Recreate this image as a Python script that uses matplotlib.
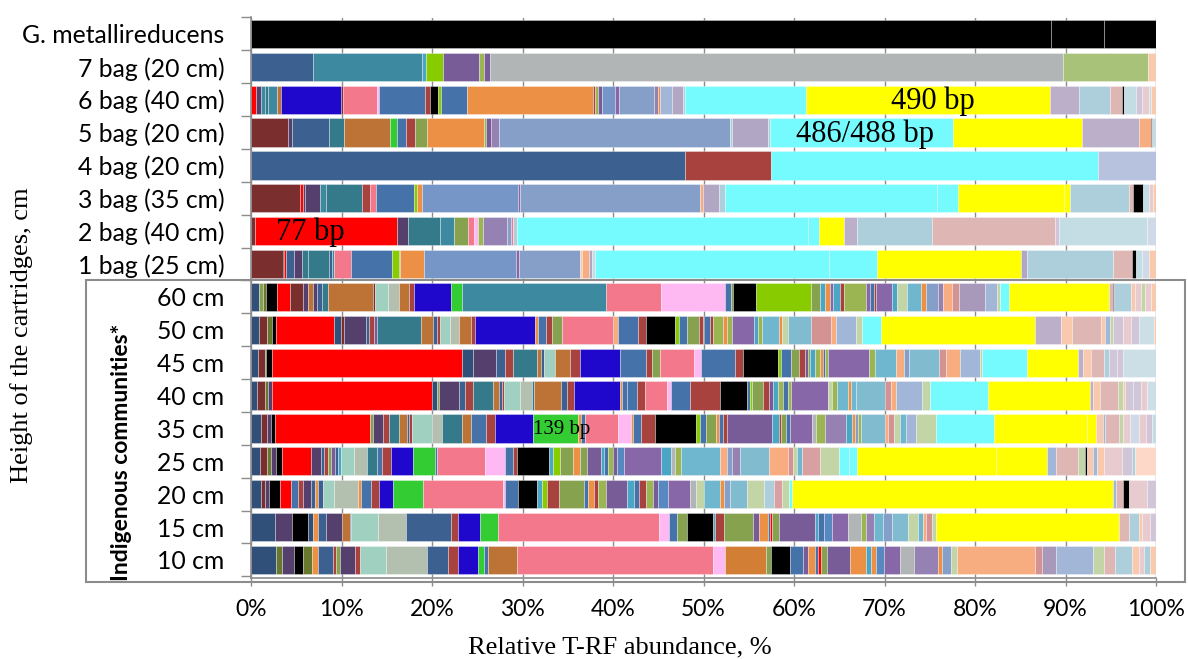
import matplotlib
matplotlib.use("Agg")
import matplotlib.pyplot as plt
from matplotlib.patches import Rectangle

# T-RF colour palette (keys used by the row colour lists below)
PAL = {
    'K': '#000000', 'R': '#FF0000', 'DR': '#7A2E2E', 'BR': '#A8423F', 'NV': '#30507A',
    'DB': '#3C6090', 'SB': '#4672AA', 'TL': '#3D8AA0', 'DT': '#347A8A', 'BG': '#88CC00',
    'GR': '#33CC33', 'PU': '#785C98', 'DP': '#553F6C', 'OL': '#87A24E', 'DO': '#68792F',
    'OL2': '#9BB552', 'GY': '#B1B5B5', 'LG': '#A9C27A', 'PE': '#F9C9AE', 'PK': '#F4788B',
    'LP': '#FFB9F2', 'BL': '#1F08CC', 'OR': '#EB9044', 'BO': '#BD7335', 'OR2': '#D27F35',
    'BS': '#7596C6', 'LS': '#859FC8', 'LB': '#A2B6D7', 'LB2': '#B7C3DE', 'LV': '#B2A6C5',
    'LV2': '#BBAFCA', 'CY': '#75FBFD', 'Y': '#FFFF00', 'AQ': '#ACCFDB', 'RS': '#DEB7B5',
    'PL': '#C4DCE4', 'PV': '#D0D9E8', 'MN': '#9FD0C0', 'GG': '#B4C0AF', 'TB': '#4AA6C4',
    'VI': '#8767A7', 'MV': '#9682B2', 'LT': '#80BBD0', 'SK': '#6FB7CF', 'LR': '#D49393',
    'LR2': '#D8A0A0', 'SA': '#F7AD80', 'LA': '#A898BA', 'PG': '#C3D4A7', 'PP': '#E8CBCF',
    'PD': '#D0C6D8', 'IC': '#CCDFE7', 'PB': '#5888C0', 'PE2': '#FDD8C8',
}

# Sample labels, top to bottom
samples = ["G. metallireducens", "7 bag (20 cm)", "6 bag (40 cm)", "5 bag (20 cm)",
           "4 bag (20 cm)", "3 bag (35 cm)", "2 bag (40 cm)", "1 bag (25 cm)",
           "60 cm", "50 cm", "45 cm", "40 cm", "35 cm", "25 cm", "20 cm", "15 cm", "10 cm"]

# T-RF abundances per sample (left to right) and their colour keys
gmet_vals = [88.4, 5.9, 5.7]
gmet_cols = ['K', 'K', 'K']

bag7_vals = [6.9, 12.0, 0.4, 1.9, 4.0, 0.6, 0.6, 63.3, 9.4, 0.9]
bag7_cols = ['DB', 'TL', 'TB', 'BG', 'PU', 'OL2', 'PU', 'GY', 'LG', 'PE']

bag6_vals = [0.55, 0.55, 0.4, 0.4, 1.0, 0.4, 6.6, 0.3, 3.7, 0.2, 5.1, 0.6, 0.9, 0.3, 2.9,
             13.9, 0.2, 0.3, 0.5, 1.4, 0.5, 3.8, 0.5, 0.2, 1.3, 1.2, 0.3, 13.3, 27.0, 3.2,
             3.4, 1.3, 0.3, 1.3, 0.6, 0.8, 0.3, 0.5]
bag6_cols = ['R', 'DP', 'TL', 'DT', 'TL', 'BO', 'BL', 'DR', 'PK', 'LP', 'SB', 'BR', 'K', 'BG', 'SB',
             'OR', 'BR', 'OL2', 'PU', 'BS', 'VI', 'LS', 'MV', 'OR', 'LB', 'LV', 'AQ', 'CY', 'Y', 'LV2',
             'AQ', 'RS', 'K', 'PL', 'PD', 'PP', 'PL', 'PE']

bag5_vals = [4.1, 0.4, 4.1, 1.7, 5.1, 0.7, 1.0, 1.0, 1.3, 6.4, 0.2, 0.5, 0.9, 25.5, 0.3, 3.9,
             0.3, 20.2, 14.2, 6.3, 1.3, 0.2, 0.4]
bag5_cols = ['DR', 'DP', 'DB', 'DT', 'BO', 'GR', 'SB', 'BR', 'OL', 'OR', 'OL2', 'PU', 'MV', 'LS', 'AQ', 'LV',
             'AQ', 'CY', 'Y', 'LV2', 'SA', 'K', 'PL']

bag4_vals = [48.0, 9.5, 36.1, 6.4]
bag4_cols = ['DB', 'BR', 'CY', 'LB2']

bag3_vals = [5.4, 0.3, 0.3, 1.6, 0.7, 4.0, 0.9, 0.6, 4.2, 0.3, 0.6, 10.6, 0.2, 19.9, 0.3, 1.8,
             0.7, 23.4, 2.3, 11.7, 0.7, 6.5, 0.5, 1.1, 0.6, 0.5, 0.3]
bag3_cols = ['DR', 'R', 'DP', 'DP', 'TL', 'DT', 'BR', 'PK', 'SB', 'BG', 'OR', 'BS', 'VI', 'LS', 'SA', 'LV',
             'AQ', 'CY', 'CY', 'Y', 'Y', 'AQ', 'RS', 'K', 'PL', 'PP', 'PE']

bag2_vals = [0.4, 15.7, 1.2, 3.6, 1.5, 1.6, 0.6, 0.5, 0.5, 2.7, 0.4, 0.3, 0.4, 32.2, 1.2, 2.7,
             1.5, 8.2, 13.6, 0.5, 9.7, 1.0]
bag2_cols = ['DR', 'R', 'DP', 'DT', 'TL', 'OL', 'PK', 'LP', 'OL2', 'MV', 'LS', 'PK', 'AQ', 'CY', 'CY', 'Y',
             'LV2', 'AQ', 'RS', 'PD', 'PL', 'PV']

bag1_vals = [3.5, 0.1, 0.3, 0.8, 0.9, 0.7, 2.3, 0.3, 0.3, 1.9, 4.5, 0.8, 0.1, 2.6, 10.2, 0.3,
             6.7, 0.3, 0.7, 0.4, 0.3, 25.9, 5.3, 15.9, 0.6, 9.5, 2.1, 0.5, 0.6, 0.8, 0.8]
bag1_cols = ['DR', 'K', 'R', 'DB', 'DP', 'DT', 'DT', 'DB', 'TL', 'PK', 'SB', 'BG', 'OL', 'OR', 'BS', 'VI',
             'LS', 'PE', 'SA', 'LV', 'PL', 'CY', 'CY', 'Y', 'LV', 'AQ', 'RS', 'K', 'PL', 'PV', 'PE']

cm60_vals = [0.9, 0.4, 0.4, 1.2, 1.4, 1.5, 0.5, 0.6, 0.4, 0.5, 0.7, 5.0, 0.2, 1.4, 1.3, 1.1,
             0.5, 4.1, 1.2, 15.9, 6.1, 7.1, 0.6, 0.3, 2.5, 6.1, 1.0, 0.5, 0.6, 0.3, 0.8, 0.4,
             2.5, 0.4, 0.4, 0.3, 1.7, 0.6, 1.1, 1.5, 0.6, 1.3, 0.6, 1.0, 0.7, 2.9, 1.3, 0.4,
             1.0, 11.0, 0.4, 0.2, 1.8, 0.5, 0.6, 0.5, 0.6, 0.6]
cm60_cols = ['NV', 'OL', 'DO', 'K', 'R', 'DR', 'DP', 'BO', 'DP', 'DB', 'DT', 'BO', 'DR', 'MN', 'GG', 'BO',
             'BR', 'BL', 'GR', 'TL', 'PK', 'LP', 'SB', 'OL', 'K', 'BG', 'OL', 'TB', 'OR', 'VI', 'TB', 'BR',
             'OL2', 'VI', 'SB', 'BR', 'VI', 'TB', 'PG', 'SK', 'OR', 'LS', 'MV', 'SA', 'LR', 'LA', 'LB', 'PG',
             'CY', 'Y', 'RS', 'K', 'AQ', 'PE', 'PP', 'PG', 'PP', 'PE']

cm50_vals = [0.9, 0.9, 0.5, 0.5, 6.4, 0.7, 0.4, 2.4, 0.3, 0.6, 0.3, 4.9, 1.3, 0.4, 0.4, 1.1,
             1.0, 1.3, 0.5, 6.6, 0.3, 0.9, 0.7, 1.1, 5.6, 0.5, 2.3, 0.8, 3.3, 0.4, 0.9, 1.3,
             0.5, 0.7, 0.3, 1.1, 0.5, 0.5, 2.5, 0.4, 0.5, 1.8, 0.4, 0.6, 2.6, 2.2, 0.5, 2.3,
             0.6, 2.1, 17.0, 2.9, 1.2, 3.2, 0.5, 0.5, 0.4, 1.1, 0.8, 0.9, 1.7, 0.2]
cm50_cols = ['NV', 'DR', 'DO', 'K', 'R', 'NV', 'DR', 'DP', 'DB', 'BR', 'PU', 'DT', 'BO', 'DB', 'BR', 'MN',
             'GG', 'BO', 'BR', 'BL', 'OR', 'SB', 'BR', 'OL', 'PK', 'SA', 'SB', 'BR', 'K', 'BG', 'SB', 'OL',
             'BR', 'SB', 'BR', 'OL2', 'OR', 'OL2', 'VI', 'TB', 'OL2', 'SK', 'OR', 'PG', 'LT', 'LR', 'SA', 'LB',
             'PG', 'CY', 'Y', 'LV2', 'PE', 'RS', 'PE', 'LB', 'PG', 'PD', 'PP', 'PD', 'IC', 'PE']

cm45_vals = [0.8, 0.7, 0.2, 0.6, 21.0, 1.2, 2.6, 1.0, 0.9, 2.6, 0.4, 0.4, 1.2, 1.7, 1.0, 4.5,
             2.8, 0.7, 0.9, 3.8, 0.7, 3.8, 0.9, 3.8, 0.4, 1.1, 0.9, 0.6, 0.4, 0.2, 0.5, 0.6,
             0.3, 0.2, 0.4, 4.5, 0.7, 2.3, 0.9, 0.5, 3.3, 0.8, 1.5, 2.2, 0.3, 4.9, 5.7, 0.5,
             0.9, 1.4, 0.6, 0.9, 0.6, 3.7]
cm45_cols = ['NV', 'DR', 'DO', 'K', 'R', 'NV', 'DP', 'DB', 'BR', 'DT', 'BO', 'DB', 'MN', 'BO', 'BR', 'BL',
             'SB', 'BR', 'OL', 'PK', 'LP', 'SB', 'BR', 'K', 'BG', 'SB', 'OL', 'BR', 'PU', 'OL', 'TB', 'OL2',
             'OR', 'SB', 'OL2', 'VI', 'OL2', 'SK', 'SA', 'LS', 'LT', 'LR', 'SA', 'LB', 'PG', 'CY', 'Y', 'LV2',
             'PE', 'RS', 'AQ', 'PD', 'PD', 'IC']

cm40_vals = [0.7, 0.9, 0.3, 0.4, 17.7, 0.6, 0.2, 2.2, 0.6, 0.9, 2.2, 0.7, 0.3, 0.3, 1.7, 1.3,
             0.3, 3.0, 0.6, 0.8, 5.1, 0.2, 0.6, 1.0, 0.9, 2.5, 0.4, 2.1, 3.3, 3.0, 0.3, 0.3,
             1.2, 0.6, 0.5, 0.5, 0.6, 0.5, 0.4, 4.1, 0.4, 0.6, 1.2, 0.3, 0.5, 3.2, 0.7, 0.6,
             2.8, 0.9, 6.4, 11.3, 0.3, 0.8, 2.0, 0.6, 0.2, 0.9, 0.8, 0.7, 1.0]
cm40_cols = ['NV', 'DR', 'DO', 'DP', 'R', 'NV', 'OL', 'DP', 'DB', 'BR', 'DT', 'BO', 'DB', 'BR', 'MN', 'GG',
             'DT', 'BO', 'DB', 'BR', 'BL', 'OR', 'SB', 'SB', 'BR', 'PK', 'LP', 'SB', 'BR', 'K', 'SB', 'BG',
             'OL', 'BR', 'PU', 'TB', 'OL2', 'SB', 'OL2', 'VI', 'PG', 'OL2', 'SK', 'OR', 'SK', 'LT', 'LR', 'SA',
             'LB', 'PG', 'CY', 'Y', 'LV2', 'PE', 'RS', 'PG', 'PE', 'PD', 'PD', 'PP', 'IC']

cm35_vals = [1.1, 0.7, 0.4, 0.4, 10.5, 0.4, 1.1, 0.6, 1.2, 0.8, 0.3, 0.3, 2.2, 1.1, 2.2, 1.0,
             1.7, 1.0, 4.2, 4.9, 0.4, 0.4, 3.6, 1.5, 0.2, 0.9, 1.5, 4.6, 0.4, 0.7, 1.1, 0.3,
             0.4, 0.5, 5.0, 0.7, 0.3, 0.5, 0.5, 2.4, 0.4, 1.0, 2.3, 0.7, 0.3, 0.4, 0.3, 2.6,
             0.4, 0.7, 0.6, 0.7, 1.1, 2.2, 6.4, 10.3, 1.0, 0.7, 0.3, 1.5, 0.4, 0.8, 1.0, 0.8,
             0.7, 0.4]
cm35_cols = ['NV', 'DR', 'DP', 'K', 'R', 'OL', 'DP', 'BR', 'DT', 'BO', 'DB', 'BR', 'MN', 'GG', 'DT', 'BO',
             'SB', 'BR', 'BL', 'GR', 'OR', 'SB', 'PK', 'LP', 'OR', 'SB', 'BR', 'K', 'BG', 'SB', 'OL', 'OR',
             'SB', 'BR', 'PU', 'TB', 'BR', 'OL', 'SB', 'VI', 'GY', 'OL2', 'MV', 'TB', 'OR', 'LS', 'OL2', 'LT',
             'SA', 'LR', 'PG', 'SK', 'LB', 'PG', 'CY', 'Y', 'Y', 'PE', 'LB', 'RS', 'PG', 'PP', 'PV', 'PP',
             'PD', 'PL']

cm25_vals = [1.0, 0.8, 0.4, 0.6, 0.6, 3.2, 1.1, 0.4, 0.4, 0.3, 0.5, 0.3, 0.3, 1.5, 1.4, 1.1,
             0.6, 1.0, 2.4, 2.4, 0.3, 5.3, 2.2, 0.9, 0.4, 3.5, 0.5, 0.7, 1.5, 0.8, 0.7, 1.6,
             0.3, 0.4, 0.6, 0.4, 0.8, 4.1, 1.1, 0.4, 0.7, 4.3, 0.8, 0.6, 0.8, 3.2, 2.1, 0.6,
             0.4, 0.6, 2.0, 2.1, 1.1, 0.9, 15.3, 5.7, 0.9, 2.5, 0.8, 0.2, 0.6, 0.5, 0.7, 2.0,
             1.2, 0.3, 2.3]
cm25_cols = ['NV', 'DR', 'DO', 'DP', 'K', 'R', 'DP', 'DB', 'BR', 'OL', 'PU', 'DB', 'TB', 'MN', 'GG', 'DT',
             'SB', 'BR', 'BL', 'GR', 'SB', 'PK', 'LP', 'SB', 'BR', 'K', 'TB', 'BG', 'OL', 'OR', 'OL', 'PU',
             'TB', 'SB', 'OL2', 'PU', 'PB', 'VI', 'TB', 'GY', 'OL2', 'SK', 'SA', 'LS', 'MV', 'LT', 'SA', 'LR',
             'PG', 'SK', 'LR2', 'PG', 'CY', 'CY', 'Y', 'Y', 'LB', 'RS', 'PG', 'K', 'PE', 'LB', 'PE', 'PP',
             'PD', 'AQ', 'PE2']

cm20_vals = [1.1, 0.4, 0.5, 1.2, 1.2, 0.8, 0.5, 0.9, 0.5, 0.3, 0.6, 1.2, 2.6, 0.4, 1.1, 0.8,
             1.6, 3.3, 8.8, 0.3, 1.4, 2.1, 0.6, 0.5, 1.3, 2.8, 0.4, 0.7, 0.4, 0.9, 2.3, 0.8,
             0.6, 0.7, 0.8, 0.6, 1.1, 2.4, 0.7, 0.8, 1.8, 0.5, 0.6, 1.9, 1.9, 1.1, 0.9, 0.8,
             0.3, 35.5, 0.3, 0.7, 0.1, 0.6, 2.0, 1.0]
cm20_cols = ['NV', 'DR', 'DP', 'K', 'R', 'SB', 'BR', 'DP', 'DB', 'OR', 'DB', 'MN', 'GG', 'OR', 'SB', 'BR',
             'BL', 'GR', 'PK', 'LP', 'SB', 'K', 'TB', 'BG', 'BR', 'OL', 'SB', 'OR', 'BR', 'OL2', 'PU', 'TB',
             'SB', 'BR', 'OL2', 'PU', 'PB', 'VI', 'GY', 'PG', 'SK', 'OR', 'LS', 'LT', 'PG', 'AQ', 'LR2', 'PG',
             'CY', 'Y', 'LB', 'RS', 'PP', 'K', 'PP', 'PD']

cm15_vals = [2.7, 1.8, 1.8, 0.5, 0.6, 0.9, 1.7, 0.9, 0.2, 2.9, 3.1, 5.0, 0.8, 2.4, 2.0, 17.8,
             1.1, 0.9, 1.1, 2.8, 0.3, 1.0, 3.2, 0.6, 1.0, 0.3, 0.2, 0.7, 4.0, 0.4, 0.6, 0.9,
             1.8, 1.4, 0.6, 0.8, 1.0, 1.0, 1.8, 1.1, 0.6, 0.3, 0.6, 0.5, 20.2, 1.1, 1.1, 0.4,
             0.8, 0.7]
cm15_cols = ['NV', 'DP', 'K', 'NV', 'OR', 'DB', 'DP', 'BO', 'DB', 'MN', 'GG', 'DB', 'BR', 'BL', 'GR', 'PK',
             'LP', 'SB', 'OL', 'K', 'TB', 'BR', 'OL', 'PU', 'OR', 'SB', 'R', 'OL', 'PU', 'TB', 'SB', 'PB',
             'VI', 'GY', 'OL2', 'MV', 'SK', 'LS', 'LT', 'PG', 'SK', 'SA', 'LR', 'PG', 'Y', 'RS', 'AQ', 'PE',
             'PP', 'PD']

cm10_vals = [2.8, 0.6, 1.3, 1.1, 0.9, 0.7, 1.7, 0.3, 0.4, 1.7, 0.5, 2.9, 4.6, 2.3, 1.1, 2.2,
             0.7, 0.4, 3.2, 21.7, 1.3, 4.5, 0.6, 2.1, 1.4, 0.5, 0.8, 0.4, 0.3, 0.7, 2.5, 1.8,
             0.5, 0.6, 0.8, 1.8, 1.6, 2.6, 0.5, 0.9, 0.7, 8.6, 0.8, 1.6, 4.0, 1.2, 1.3, 1.9,
             0.7, 0.6, 0.6, 0.7]
cm10_cols = ['NV', 'DO', 'DP', 'K', 'DO', 'OR', 'DB', 'BR', 'OL', 'DP', 'BR', 'MN', 'GG', 'DB', 'BR', 'BL',
             'GR', 'SB', 'BO', 'PK', 'LP', 'OR2', 'OL', 'K', 'SB', 'PU', 'OR', 'SB', 'R', 'OL', 'PU', 'OR',
             'TB', 'OR', 'PB', 'VI', 'GY', 'MV', 'OR', 'LS', 'PG', 'SA', 'LR', 'LA', 'LB', 'PG', 'RS', 'AQ',
             'PE', 'PP', 'AQ', 'PE']

rows = [(gmet_vals, gmet_cols), (bag7_vals, bag7_cols), (bag6_vals, bag6_cols),
        (bag5_vals, bag5_cols), (bag4_vals, bag4_cols), (bag3_vals, bag3_cols),
        (bag2_vals, bag2_cols), (bag1_vals, bag1_cols), (cm60_vals, cm60_cols),
        (cm50_vals, cm50_cols), (cm45_vals, cm45_cols), (cm40_vals, cm40_cols),
        (cm35_vals, cm35_cols), (cm25_vals, cm25_cols), (cm20_vals, cm20_cols),
        (cm15_vals, cm15_cols), (cm10_vals, cm10_cols)]

# Peak annotations: (sample, position of label in %, text, font size)
peak_labels = [("6 bag (40 cm)", 75.4, "490 bp", 22),
               ("5 bag (20 cm)", 67.8, "486/488 bp", 22),
               ("2 bag (40 cm)", 6.5, "77 bp", 22),
               ("35 cm", 34.3, "139 bp", 15)]

SANS = ['Lato', 'DejaVu Sans']
SERIF = ['Liberation Serif', 'DejaVu Serif']

W, H = 1188, 659
fig = plt.figure(figsize=(W / 100, H / 100), dpi=100)
ax = fig.add_axes([251 / W, 81 / H, 905 / W, 560.5 / H])

n = len(samples)
ypos = {name: n - 1 - i for i, name in enumerate(samples)}

for name, (vals, cols) in zip(samples, rows):
    total = sum(vals)
    shares = [100.0 * v / total for v in vals]
    left = 0.0
    for share, key in zip(shares, cols):
        ax.barh(ypos[name], share, left=left, height=0.86, color=PAL[key],
                edgecolor=(1, 1, 1, 0.45), linewidth=0.5, zorder=2)
        left += share

for name, xpos, text, size in peak_labels:
    ax.text(xpos, ypos[name] - 0.04, text, ha='center', va='center',
            fontsize=size, family=SERIF, color='black', zorder=5)

ax.set_xlim(0, 100)
ax.set_ylim(-0.55, n - 0.5)
ax.set_xticks(range(0, 101, 10))
ax.set_xticklabels([f"{v}%" for v in range(0, 101, 10)], family=SANS, fontsize=16.5)
ax.set_yticks([ypos[s] for s in samples])
ax.set_yticklabels(samples, family=SANS, fontsize=17.8)
ax.set_yticks([k - 0.5 for k in range(n + 1)], minor=True)
ax.tick_params(axis='y', which='major', length=0, pad=19)
ax.tick_params(axis='y', which='minor', length=7, color='#8C8C8C', width=1)
ax.tick_params(axis='x', length=6, color='#8C8C8C', width=1, pad=9)

ax.grid(axis='x', color='#8C8C8C', linewidth=1, zorder=0)
ax.set_axisbelow(True)
for side in ('top', 'right'):
    ax.spines[side].set_visible(False)
for side in ('left', 'bottom'):
    ax.spines[side].set_color('#8C8C8C')
    ax.spines[side].set_linewidth(1.2)

fig.text(620 / W, 1 - 647 / H, "Relative T-RF abundance, %",
         ha='center', va='center', family=SERIF, fontsize=19)
fig.text(22 / W, 1 - 335 / H, "Height of the cartridges, cm", rotation=90,
         ha='center', va='center', family=SERIF, fontsize=19)

# Frame around the indigenous-community samples
fig.add_artist(Rectangle((86 / W, 1 - 582 / H), (1185 - 86) / W, (582 - 280) / H,
                         transform=fig.transFigure, fill=False,
                         edgecolor='#8C8C8C', linewidth=1.5))
fig.text(122 / W, 1 - 452 / H, "Indigenous communities*", rotation=90,
         ha='center', va='center', family=SANS, fontweight='bold', fontsize=16.5)

fig.savefig("out.png", dpi=100)
